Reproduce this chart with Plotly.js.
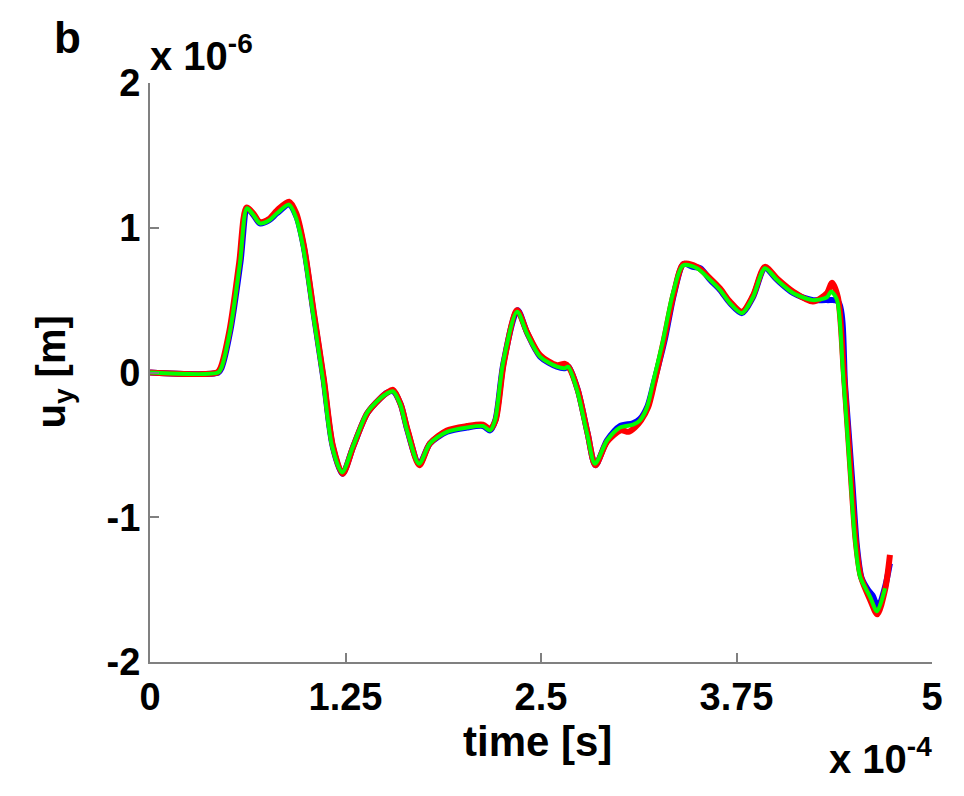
<!DOCTYPE html>
<html>
<head>
<meta charset="utf-8">
<script src="https://cdn.plot.ly/plotly-3.0.1.min.js"></script>
<style>html,body{margin:0;padding:0;background:#fff;}#chart{width:964px;height:796px;}</style>
</head>
<body>
<div id="chart"></div>
<script>
// time in units of 1e-4 s, displacement in units of 1e-6 m
const timeGreen = [0, 0.435, 0.455, 0.512, 0.575, 0.62, 0.66, 0.703, 0.76, 0.812, 0.889, 0.93, 0.978, 1.042, 1.106, 1.164, 1.228, 1.298, 1.387, 1.471, 1.515, 1.554, 1.60, 1.643, 1.720, 1.790, 1.899, 2.027, 2.129, 2.174, 2.206, 2.257, 2.347, 2.410, 2.494, 2.602, 2.653, 2.673, 2.730, 2.794, 2.845, 2.922, 3.005, 3.088, 3.133, 3.178, 3.216, 3.280, 3.344, 3.408, 3.497, 3.581, 3.645, 3.708, 3.785, 3.855, 3.932, 4.009, 4.111, 4.239, 4.329, 4.355, 4.393, 4.431, 4.476, 4.508, 4.540, 4.604, 4.648, 4.700];
const uyGreen = [0, 0, 0.03, 0.29, 0.757, 1.135, 1.09, 1.03, 1.05, 1.10, 1.16, 1.08, 0.87, 0.41, -0.05, -0.51, -0.69, -0.51, -0.28, -0.18, -0.145, -0.13, -0.22, -0.40, -0.63, -0.49, -0.41, -0.38, -0.37, -0.40, -0.33, 0.065, 0.42, 0.27, 0.11, 0.04, 0.03, 0.04, -0.12, -0.42, -0.63, -0.47, -0.38, -0.36, -0.33, -0.24, -0.07, 0.22, 0.55, 0.74, 0.72, 0.64, 0.57, 0.48, 0.41, 0.52, 0.72, 0.64, 0.55, 0.50, 0.52, 0.56, 0.50, 0.0, -0.69, -1.16, -1.41, -1.55, -1.65, -1.49];

const timeRed = [0, 0.430, 0.450, 0.508, 0.570, 0.617, 0.66, 0.703, 0.76, 0.812, 0.889, 0.935, 0.985, 1.048, 1.112, 1.170, 1.232, 1.300, 1.390, 1.471, 1.515, 1.554, 1.603, 1.648, 1.722, 1.790, 1.899, 2.027, 2.129, 2.174, 2.210, 2.262, 2.347, 2.410, 2.494, 2.602, 2.653, 2.676, 2.735, 2.798, 2.848, 2.922, 3.010, 3.060, 3.100, 3.140, 3.185, 3.225, 3.285, 3.350, 3.412, 3.497, 3.581, 3.645, 3.708, 3.785, 3.855, 3.932, 4.009, 4.111, 4.239, 4.329, 4.360, 4.398, 4.436, 4.480, 4.512, 4.545, 4.604, 4.650, 4.700, 4.731];
const uyRed = [0, 0, 0.03, 0.29, 0.757, 1.14, 1.10, 1.04, 1.06, 1.12, 1.18, 1.10, 0.87, 0.41, -0.05, -0.51, -0.70, -0.51, -0.28, -0.18, -0.14, -0.12, -0.22, -0.40, -0.64, -0.49, -0.40, -0.37, -0.36, -0.39, -0.33, 0.065, 0.43, 0.28, 0.12, 0.05, 0.06, 0.04, -0.12, -0.42, -0.64, -0.48, -0.40, -0.41, -0.38, -0.33, -0.24, -0.07, 0.22, 0.55, 0.75, 0.73, 0.65, 0.58, 0.49, 0.42, 0.53, 0.73, 0.65, 0.56, 0.49, 0.55, 0.62, 0.52, 0.0, -0.69, -1.16, -1.41, -1.57, -1.67, -1.50, -1.26];

const timeBlue = [0, 0.437, 0.457, 0.514, 0.578, 0.623, 0.66, 0.703, 0.76, 0.812, 0.889, 0.935, 0.983, 1.046, 1.110, 1.168, 1.230, 1.300, 1.390, 1.471, 1.515, 1.554, 1.603, 1.646, 1.722, 1.790, 1.899, 2.027, 2.129, 2.174, 2.208, 2.260, 2.350, 2.413, 2.494, 2.602, 2.653, 2.676, 2.735, 2.798, 2.848, 2.922, 3.005, 3.088, 3.133, 3.182, 3.222, 3.290, 3.352, 3.412, 3.470, 3.520, 3.581, 3.645, 3.708, 3.785, 3.855, 3.932, 4.009, 4.111, 4.239, 4.329, 4.400, 4.445, 4.490, 4.520, 4.550, 4.590, 4.620, 4.655, 4.700, 4.731];
const uyBlue = [0, 0, 0.03, 0.29, 0.757, 1.13, 1.09, 1.03, 1.05, 1.10, 1.16, 1.08, 0.87, 0.41, -0.05, -0.51, -0.70, -0.51, -0.28, -0.18, -0.14, -0.13, -0.22, -0.40, -0.63, -0.49, -0.41, -0.38, -0.37, -0.40, -0.33, 0.065, 0.43, 0.27, 0.11, 0.04, 0.03, 0.04, -0.12, -0.42, -0.64, -0.47, -0.37, -0.35, -0.32, -0.23, -0.07, 0.22, 0.55, 0.75, 0.73, 0.72, 0.64, 0.57, 0.48, 0.41, 0.52, 0.72, 0.64, 0.55, 0.50, 0.50, 0.49, -0.10, -0.75, -1.20, -1.42, -1.50, -1.54, -1.62, -1.48, -1.32];

const xTicks = [0, 1.25, 2.5, 3.75, 5];
const xTickText = ['0', '1.25', '2.5', '3.75', '5'];
const yTicks = [-2, -1, 0, 1, 2];
const yTickText = ['-2', '-1', '0', '1', '2'];

const FONT = '"Liberation Sans", Arial, sans-serif';

const traces = [
  {x: timeBlue, y: uyBlue, mode: 'lines', line: {color: '#0000ff', width: 6, shape: 'spline', smoothing: 0.8}, name: 'blue', hoverinfo: 'skip'},
  {x: timeRed, y: uyRed, mode: 'lines', line: {color: '#ff0000', width: 6, shape: 'spline', smoothing: 0.8}, name: 'red', hoverinfo: 'skip'},
  {x: timeGreen, y: uyGreen, mode: 'lines', line: {color: '#00ff00', width: 4, shape: 'spline', smoothing: 0.8}, name: 'green', hoverinfo: 'skip'}
];

const layout = {
  width: 964, height: 796,
  margin: {l: 150, r: 32, t: 83, b: 134},
  paper_bgcolor: '#ffffff', plot_bgcolor: '#ffffff',
  showlegend: false,
  font: {family: FONT, color: '#000'},
  xaxis: {
    range: [0, 5], tickvals: xTicks, ticktext: xTickText,
    showgrid: false, zeroline: false, showline: true, linecolor: '#808080', linewidth: 2,
    ticks: 'inside', ticklen: 9, tickwidth: 2, tickcolor: '#808080',
    tickfont: {family: FONT, size: 38, weight: 'bold', color: '#000'}, mirror: false
  },
  yaxis: {
    range: [-2, 2], tickvals: yTicks, ticktext: yTickText,
    showgrid: false, zeroline: false, showline: true, linecolor: '#808080', linewidth: 2,
    ticks: 'inside', ticklen: 9, tickwidth: 2, tickcolor: '#808080',
    tickfont: {family: FONT, size: 38, weight: 'bold', color: '#000'}
  },
  annotations: [
    {text: '<b>b</b>', xref: 'paper', yref: 'paper', x: -0.105, y: 1.078, xanchor: 'center', yanchor: 'middle', showarrow: false, font: {family: FONT, size: 44, color: '#000'}},
    {text: '<b>x 10<sup>-6</sup></b>', xref: 'paper', yref: 'paper', x: -0.003, y: 1.005, xanchor: 'left', yanchor: 'bottom', showarrow: false, font: {family: FONT, size: 40, color: '#000'}},
    {text: '<b>u<sub>y</sub> [m]</b>', xref: 'paper', yref: 'paper', x: -0.124, y: 0.5, xanchor: 'center', yanchor: 'middle', textangle: -90, showarrow: false, font: {family: FONT, size: 40, color: '#000'}},
    {text: '<b>time [s]</b>', xref: 'paper', yref: 'paper', x: 0.496, y: -0.138, xanchor: 'center', yanchor: 'middle', showarrow: false, font: {family: FONT, size: 42, color: '#000'}},
    {text: '<b>x 10<sup>-4</sup></b>', xref: 'paper', yref: 'paper', x: 1.003, y: -0.209, xanchor: 'right', yanchor: 'bottom', showarrow: false, font: {family: FONT, size: 40, color: '#000'}}
  ]
};

Plotly.newPlot('chart', traces, layout, {displayModeBar: false, staticPlot: true});
</script>
</body>
</html>
